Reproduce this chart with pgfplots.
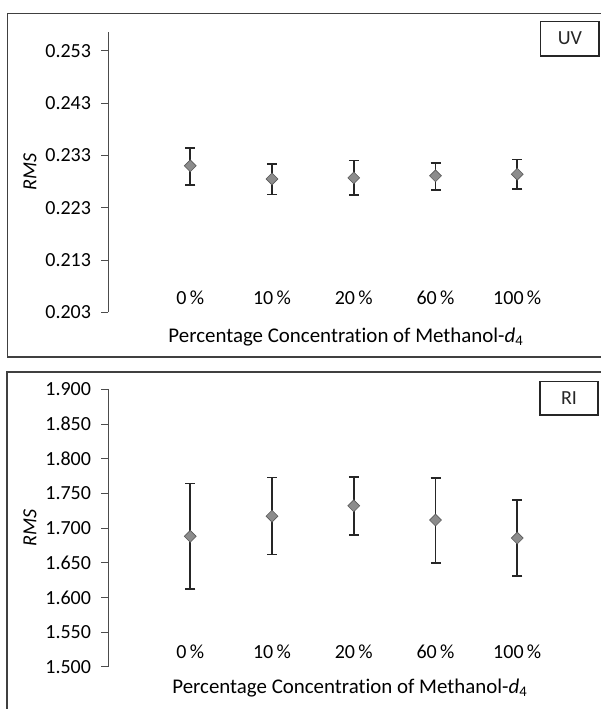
\documentclass[border=0pt]{standalone}
\usepackage{fontspec}
\setmainfont{Carlito}[Ligatures=NoCommon]
\usepackage{pgfplots}
\pgfplotsset{compat=1.18}
\pgfplotsset{
 panel/.style={
  scale only axis, width=490.5pt, xmin=0, xmax=6,
  axis y line*=left, axis x line*=bottom,
  x axis line style={draw=none},
  xtick={1,2,3,4,5}, xticklabels={0\,\%,10\,\%,20\,\%,60\,\%,100\,\%},
  major x tick style={draw=none},
  tick align=outside, major tick length=7pt,
  y axis line style={black!70, line width=0.8pt},
  major y tick style={black!70, line width=0.8pt},
  font=\fontsize{20}{24}\selectfont,
  ticklabel style={font=\fontsize{20}{24}\selectfont},
  xlabel style={font=\fontsize{20.9}{24}\selectfont},
  /pgf/number format/fixed, /pgf/number format/fixed zerofill,
  /pgf/number format/precision=3, /pgf/number format/assume math mode=true,
  xticklabel style={anchor=base, yshift=15.2pt},
  yticklabel style={xshift=-7pt},
  ylabel={\textit{RMS}},
  xlabel={Percentage Concentration of Methanol-\textit{d}\textsubscript{4}},
  clip=false,
 },
 pts/.style={only marks, mark=square*, mark size=4.2pt,
  mark options={rotate=45, fill=black!45, draw=black!65, line width=0.6pt},
  error bars/.cd, y dir=both, y explicit,
  error bar style={line width=1.6pt, black!85},
  error mark options={rotate=90, line width=1.6pt, black!85, mark size=5pt}},
}
\begin{document}
\begin{tikzpicture}[x=1pt,y=1pt]
\useasboundingbox (0,0) rectangle (601,709);
\fill[white] (0,0) rectangle (601,709);
% top panel (UV)
\begin{axis}[panel, at={(108.5pt,396.7pt)}, anchor=south west,
  height=280.6pt, ymin=0.203, ymax=0.25665,
  ytick={0.203,0.213,0.223,0.233,0.243,0.253},
  xlabel style={at={(axis description cs:0.484,-0.087)}, anchor=center},
  ylabel style={at={(axis description cs:-0.160,0.5)}, anchor=center}]
\addplot[pts] coordinates {
 (1,0.2310) += (0,0.0034) -= (0,0.0037)
 (2,0.2285) += (0,0.0029) -= (0,0.0030)
 (3,0.2287) += (0,0.0033) -= (0,0.0033)
 (4,0.2291) += (0,0.0025) -= (0,0.0027)
 (5,0.2294) += (0,0.0028) -= (0,0.0028)
};
\end{axis}
% bottom panel (RI)
\begin{axis}[panel, at={(108.5pt,42.3pt)}, anchor=south west,
  height=277.4pt, ymin=1.5, ymax=1.9,
  ytick={1.5,1.55,1.6,1.65,1.7,1.75,1.8,1.85,1.9},
  xlabel style={at={(axis description cs:0.492,-0.0776)}, anchor=center},
  ylabel style={at={(axis description cs:-0.160,0.5)}, anchor=center}]
\addplot[pts] coordinates {
 (1,1.688) += (0,0.076) -= (0,0.076)
 (2,1.717) += (0,0.056) -= (0,0.055)
 (3,1.732) += (0,0.0415) -= (0,0.042)
 (4,1.7115) += (0,0.0605) -= (0,0.062)
 (5,1.6855) += (0,0.0545) -= (0,0.0545)
};
\end{axis}
% frames
\draw[black!75, line width=1.3pt] (605,695.5) -- (7.5,695.5) -- (7.5,352) -- (605,352);
\draw[black!75, line width=1.3pt] (605,337) -- (7,337) -- (7,-5);
\draw[black!85, line width=1.4pt] (540.7,687.7) rectangle (599,653)
  node[midway, font=\fontsize{20}{24}\selectfont] {UV};
\draw[black!85, line width=1.4pt] (540,327.3) rectangle (598,294)
  node[midway, font=\fontsize{20}{24}\selectfont] {RI};
\end{tikzpicture}
\end{document}
